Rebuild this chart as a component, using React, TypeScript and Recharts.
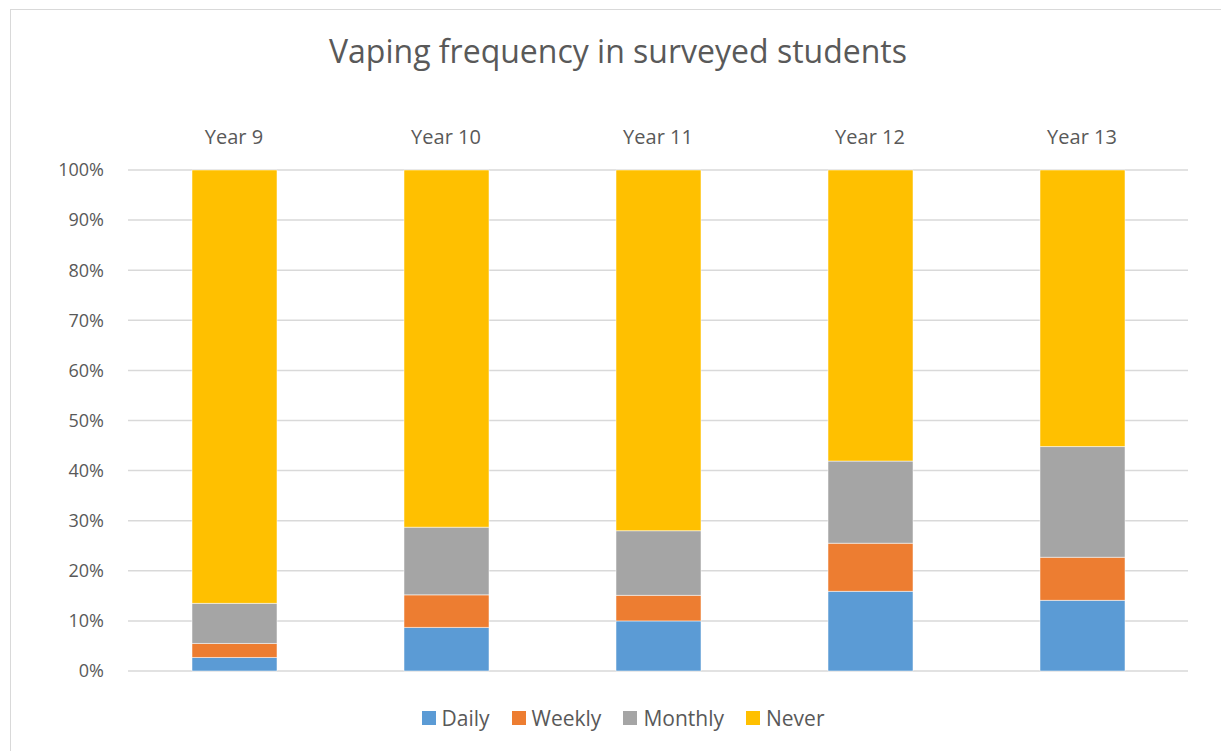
import React from 'react';
import { BarChart, Bar, XAxis, YAxis, CartesianGrid } from 'recharts';

const years = ['Year 9', 'Year 10', 'Year 11', 'Year 12', 'Year 13'];
const daily = [2.7, 8.7, 10.0, 15.9, 14.1];
const weekly = [2.8, 6.5, 5.1, 9.6, 8.6];
const monthly = [8.0, 13.5, 12.9, 16.4, 22.1];
const never = [86.5, 71.3, 72.0, 58.1, 55.2];
const yTicks = [0, 10, 20, 30, 40, 50, 60, 70, 80, 90, 100];

const series = [
  { key: 'Daily', values: daily, color: '#5b9bd5' },
  { key: 'Weekly', values: weekly, color: '#ed7d31' },
  { key: 'Monthly', values: monthly, color: '#a5a5a5' },
  { key: 'Never', values: never, color: '#ffc000' },
];

const rows = years.map((year, i) => {
  const row: Record<string, string | number> = { year };
  series.forEach((s) => (row[s.key] = s.values[i]));
  return row;
});

const FONT = '"Open Sans", sans-serif';
const TEXT = '#595959';

const App: React.FC = () => {
  return (
    <div
      style={{
        position: 'absolute',
        left: 0,
        top: 0,
        width: 1221,
        height: 751,
        overflow: 'hidden',
        background: '#fff',
        fontFamily: FONT,
      }}
    >
      {/* chart frame, only left and top edges fall inside the page */}
      <div
        style={{
          position: 'absolute',
          left: 10,
          top: 9,
          width: 1240,
          height: 780,
          border: '1.5px solid #d9d9d9',
        }}
      />
      <div
        style={{
          position: 'absolute',
          left: 10,
          width: 1216,
          top: 29,
          textAlign: 'center',
          fontSize: 32,
          color: TEXT,
        }}
      >
        Vaping frequency in surveyed students
      </div>
      <BarChart
        width={1221}
        height={751}
        data={rows}
        margin={{ top: 0, right: 33, bottom: 80, left: 0 }}
        style={{ position: 'absolute', left: 0, top: 0 }}
      >
        <CartesianGrid vertical={false} stroke="#d9d9d9" strokeWidth={1.5} />
        <XAxis
          dataKey="year"
          orientation="top"
          height={170}
          axisLine={false}
          tickLine={false}
          tickSize={0}
          tickMargin={26}
          tick={{ fill: TEXT, fontSize: 20, fontFamily: FONT }}
        />
        <YAxis
          width={128}
          domain={[0, 100]}
          ticks={yTicks}
          interval={0}
          axisLine={false}
          tickLine={false}
          tickSize={0}
          tickMargin={24}
          tickFormatter={(v: number) => `${v}%`}
          tick={{ fill: TEXT, fontSize: 18, fontFamily: FONT }}
        />
        {series.map((s) => (
          <Bar
            key={s.key}
            dataKey={s.key}
            stackId="freq"
            fill={s.color}
            stroke="rgba(255,255,255,0.5)"
            strokeWidth={1}
            barSize={85}
            isAnimationActive={false}
          />
        ))}
      </BarChart>
      <div
        style={{
          position: 'absolute',
          left: 10,
          width: 1226,
          top: 704,
          display: 'flex',
          justifyContent: 'center',
          gap: 22,
          fontSize: 21,
          color: TEXT,
        }}
      >
        {series.map((s) => (
          <div key={s.key} style={{ display: 'flex', alignItems: 'center', gap: 6 }}>
            <span style={{ width: 14, height: 14, background: s.color, display: 'inline-block' }} />
            <span>{s.key}</span>
          </div>
        ))}
      </div>
    </div>
  );
};

export default App;
